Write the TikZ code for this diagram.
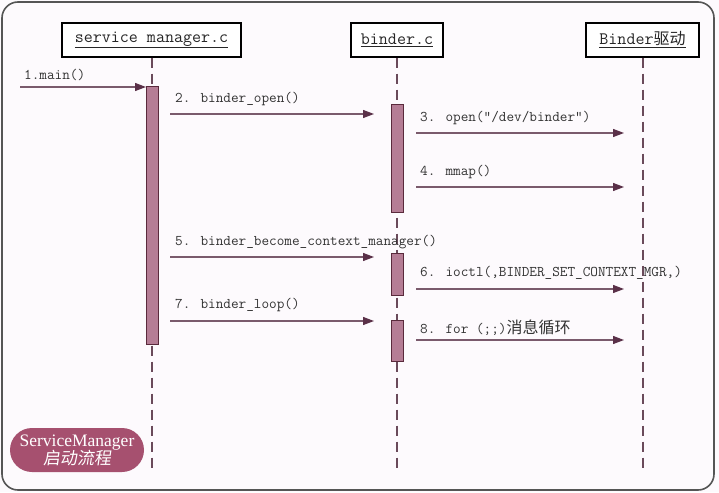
\documentclass[tikz,border=0pt]{standalone}
\usepackage{fontspec}
\setmainfont{Liberation Serif}
\newfontfamily\cjk{Noto Sans CJK SC}
\newfontfamily\cjkit[FakeSlant=0.15]{Noto Sans CJK SC}
\usetikzlibrary{arrows.meta}
\definecolor{bgc}{HTML}{FDFAFD}
\definecolor{framec}{HTML}{555555}
\definecolor{linec}{HTML}{7A5A6C}
\definecolor{tipc}{HTML}{5A3048}
\definecolor{barfill}{HTML}{B57D95}
\definecolor{barline}{HTML}{5A2A3C}
\definecolor{badgec}{HTML}{A6506F}
\definecolor{lifec}{HTML}{6A4A5A}
\tikzset{
  actor/.style={draw=black, line width=1.4pt, fill=white, minimum height=34pt, inner sep=0pt,
    font=\fontsize{17.5}{20}\selectfont\ttfamily, text=black!85},
  lifeline/.style={draw=lifec, line width=1.2pt, dash pattern=on 10pt off 6pt},
  actbar/.style={draw=barline, line width=1pt, fill=barfill, minimum width=12pt, inner sep=0pt},
  msg/.style={draw=linec, line width=1.2pt, -{Triangle[length=11pt,width=8pt,color=tipc]}},
  lbl/.style={anchor=west, inner sep=0pt, font=\fontsize{14.8}{17}\selectfont\ttfamily, text=black!80},
  badge/.style={fill=badgec, rounded corners=22pt, minimum width=134pt, minimum height=44pt, inner sep=0pt,
    text=white, align=center, font=\fontsize{17.5}{19}\selectfont\rmfamily}
}
\begin{document}
\begin{tikzpicture}[x=1pt,y=-1pt]
\useasboundingbox (0,0) rectangle (719,492);
\fill[bgc] (0,0) rectangle (719,492);
\draw[framec, line width=1.6pt, rounded corners=16pt] (2,2) rectangle (714,490);

% actors
\node[actor, minimum width=179pt] (sm) at (151.5,40) {\underline{service manager.c}};
\node[actor, minimum width=92pt] (bc) at (397,40) {\underline{binder.c}};
\node[actor, minimum width=113pt] (bd) at (642.5,40) {\underline{Binder{\cjk\fontsize{16}{18}\selectfont 驱动}}};

% lifelines
\coordinate (smEnd) at (152,473);
\coordinate (bcEnd) at (397,473);
\coordinate (bdEnd) at (643,473);
\draw[lifeline] (sm.south -| smEnd) -- (smEnd);
\draw[lifeline] (bc.south -| bcEnd) -- (bcEnd);
\draw[lifeline] (bd.south -| bdEnd) -- (bdEnd);

% activation bars
\node[actbar, minimum height=257pt] (smA) at (152,215.5) {};
\node[actbar, minimum height=107pt] (bcA1) at (397,158.5) {};
\node[actbar, minimum height=42pt] (bcA2) at (397,274) {};
\node[actbar, minimum height=41pt] (bcA3) at (397,340.5) {};

% message endpoints
\coordinate (s1) at (20,87);   \coordinate (e1) at (146,87);
\coordinate (s2) at (170,114); \coordinate (e2) at (374,114);
\coordinate (s3) at (416,133); \coordinate (e3) at (624,133);
\coordinate (s4) at (416,187); \coordinate (e4) at (624,187);
\coordinate (s5) at (170,257); \coordinate (e5) at (374,257);
\coordinate (s6) at (416,289); \coordinate (e6) at (624,289);
\coordinate (s7) at (170,321); \coordinate (e7) at (374,321);
\coordinate (s8) at (416,340); \coordinate (e8) at (624,340);

\draw[msg] (s1) -- (e1);
\draw[msg] (s2) -- (e2);
\draw[msg] (s3) -- (e3);
\draw[msg] (s4) -- (e4);
\draw[msg] (s5) -- (e5);
\draw[msg] (s6) -- (e6);
\draw[msg] (s7) -- (e7);
\draw[msg] (s8) -- (e8);

% labels
\node[lbl] (l1) at (24,75) {1.main()};
\node[lbl] (l2) at (175,99) {2. binder\_open()};
\node[lbl] (l3) at (420,118) {3. open(”/dev/binder”)};
\node[lbl] (l4) at (420,172) {4. mmap()};
\node[lbl] (l5) at (175,242) {5. binder\_become\_context\_manager()};
\node[lbl] (l6) at (420,273) {6. ioctl(,BINDER\_SET\_CONTEXT\_MGR,)};
\node[lbl] (l7) at (175,305) {7. binder\_loop()};
\node[lbl] (l8) at (420,328) {8. for (;;){\cjk\fontsize{16}{18}\selectfont 消息循环}};

% badge
\node[badge] (badge) at (77,450) {ServiceManager\\[-1pt]{\cjkit\fontsize{17}{19}\selectfont 启动流程}};
\end{tikzpicture}
\end{document}
